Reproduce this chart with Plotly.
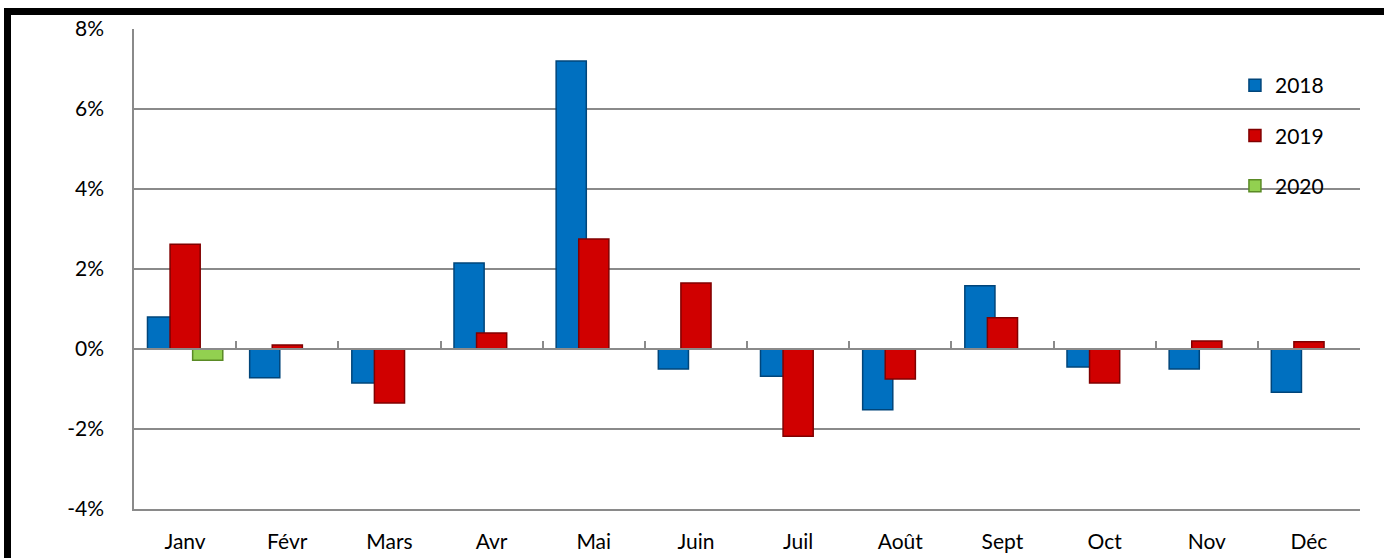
import plotly.graph_objects as go

months = ["Janv", "Févr", "Mars", "Avr", "Mai", "Juin", "Juil", "Août", "Sept", "Oct", "Nov", "Déc"]
v2018 = [0.80, -0.72, -0.85, 2.15, 7.20, -0.50, -0.68, -1.52, 1.58, -0.45, -0.50, -1.08]
v2019 = [2.62, 0.10, -1.35, 0.40, 2.75, 1.65, -2.18, -0.75, 0.78, -0.85, 0.20, 0.18]
v2020 = [-0.28, None, None, None, None, None, None, None, None, None, None, None]
y_ticks = [-4, -2, 0, 2, 4, 6, 8]
y_tick_labels = ["-4%", "-2%", "0%", "2%", "4%", "6%", "8%"]

series = [
    ("2018", v2018, "#0070C0", "#00457a", -0.368),
    ("2019", v2019, "#D00000", "#800000", -0.147),
    ("2020", v2020, "#92D050", "#5a8a25", 0.074),
]

FONT = "Lato"
GRID = "#8a8a8a"
FS = 21

fig = go.Figure()
for i, (name, vals, col, edge, off) in enumerate(series):
    fig.add_trace(go.Bar(
        x=months, y=vals, name=name,
        marker=dict(color=col, line=dict(color=edge, width=1.5)),
        width=0.295, offset=off,
        legendgroup=name,
    ))

# helper trace for the zero-line axis with tick marks
fig.add_trace(go.Scatter(
    x=months, y=[0] * 12, xaxis="x2", mode="markers",
    marker=dict(opacity=0), showlegend=False, hoverinfo="skip",
))

fig.update_layout(
    width=1384, height=558,
    margin=dict(l=134, r=24, t=29, b=49, autoexpand=False),
    paper_bgcolor="white", plot_bgcolor="white",
    barmode="overlay",
    font=dict(family=FONT, size=FS, color="black"),
    showlegend=True,
    legend=dict(
        x=0.898, y=0.925, xanchor="left", yanchor="top",
        font=dict(family=FONT, size=FS, color="black"),
        bgcolor="rgba(0,0,0,0)", tracegroupgap=20,
        itemwidth=30,
    ),
    xaxis=dict(
        type="category", categoryarray=months, range=[-0.5, 11.5],
        showline=True, linecolor=GRID, linewidth=1.5, automargin=False,
        showgrid=False, ticks="", ticklabelstandoff=13,
        tickfont=dict(family=FONT, size=FS, color="black"),
    ),
    xaxis2=dict(
        type="category", categoryarray=months, range=[-0.5, 11.5],
        overlaying="x", anchor="free", position=1/3, side="bottom",
        showline=True, linecolor=GRID, linewidth=1.5, automargin=False,
        ticks="inside", tickson="boundaries", ticklen=7, tickwidth=1.5, tickcolor=GRID,
        showticklabels=False, showgrid=False,
    ),
    yaxis=dict(
        range=[-4, 8], tickvals=y_ticks, ticktext=y_tick_labels,
        showline=True, linecolor=GRID, linewidth=1.5, automargin=False,
        showgrid=True, gridcolor=GRID, gridwidth=1.5,
        zeroline=False, ticks="", ticklabelstandoff=24,
        tickfont=dict(family=FONT, size=FS, color="black"),
    ),
    shapes=[dict(
        type="rect", xref="paper", yref="paper",
        x0=-126.5/1226, x1=1.05, y0=-0.2, y1=(509 - 11.5) / 480,
        line=dict(color="black", width=7), fillcolor="rgba(0,0,0,0)", layer="above",
    )],
)

fig.write_html("out.html", config={"displayModeBar": False},
               post_script="document.body.style.margin='0';")
